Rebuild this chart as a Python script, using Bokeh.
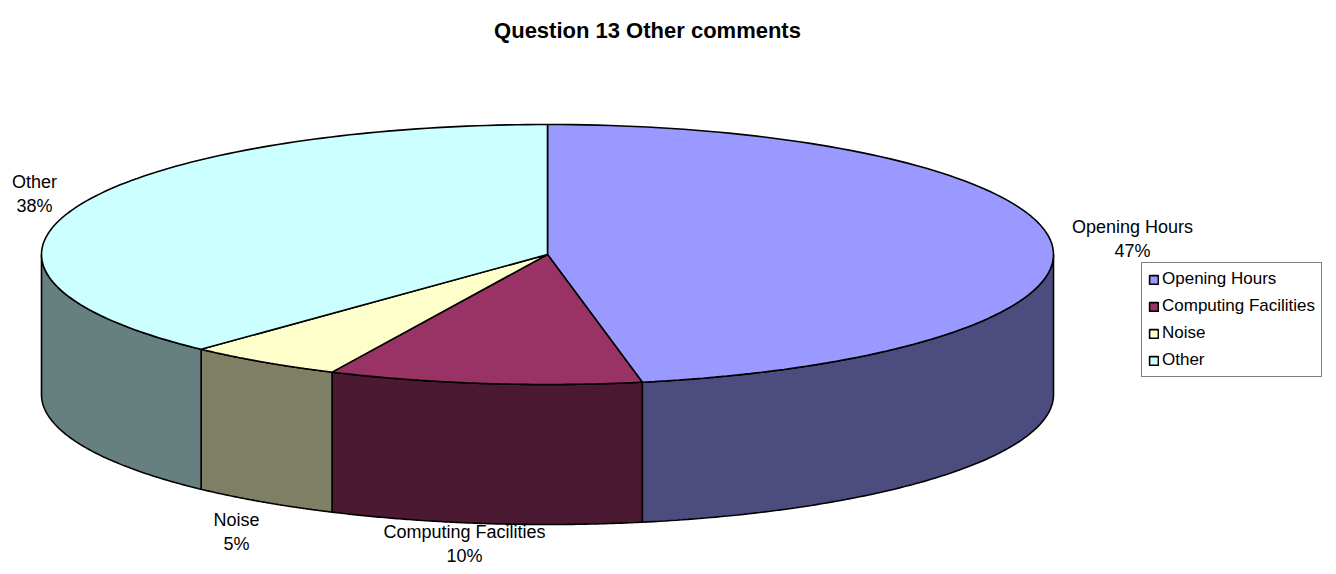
import numpy as np
from bokeh.plotting import figure
from bokeh.models import Range1d, ColumnDataSource, Legend, LegendItem
from bokeh.core.properties import value
from bokeh.embed import file_html
from bokeh.resources import INLINE

# ---- data ----
categories = ["Opening Hours", "Computing Facilities", "Noise", "Other"]
values = [47, 10, 5, 38]
title_text = "Question 13 Other comments"

# ---- style ----
top_colors = ["#9999FF", "#993366", "#FFFFCC", "#CCFFFF"]
side_colors = ["#4C4C7F", "#4C1933", "#7F7F66", "#667F7F"]
FONT = "Liberation Sans"

W, H = 1328, 566
p = figure(width=W, height=H, output_backend="svg", toolbar_location=None,
           x_range=Range1d(0, W), y_range=Range1d(H, 0),
           x_axis_location=None, y_axis_location=None,
           min_border=0, min_border_left=0, min_border_right=0,
           min_border_top=0, min_border_bottom=0)
p.grid.visible = False
p.outline_line_color = None
p.background_fill_color = "white"

# pie geometry (pixel-like data units)
cx, cy, rx, ry, depth = 547, 254, 506, 130, 140

total = float(sum(values))
angles = np.cumsum([0.0] + [v / total * 360.0 for v in values])


def arc(a, b, n=120):
    th = np.radians(np.linspace(a, b, n))
    return cx + rx * np.sin(th), cy - ry * np.cos(th)


# side walls (front half only, 90..270 deg clockwise from 12 o'clock)
for i, c in enumerate(categories):
    a, b = angles[i], angles[i + 1]
    lo, hi = max(a, 90.0), min(b, 270.0)
    if lo < hi:
        xs, ys = arc(lo, hi)
        px = list(xs) + list(xs[::-1])
        py = list(ys) + list((ys + depth)[::-1])
        p.patch(px, py, fill_color=side_colors[i], line_color="black",
                line_width=1.6)

# top slices
tops = []
for i, c in enumerate(categories):
    a, b = angles[i], angles[i + 1]
    xs, ys = arc(a, b)
    px = [cx] + list(xs) + [cx]
    py = [cy] + list(ys) + [cy]
    r = p.patch(px, py, fill_color=top_colors[i], line_color="black",
                line_width=1.6)
    tops.append(r)

# data labels
label_pos_x = [1132, 464, 236, 34]
label_pos_y = [238, 543, 531, 193]
labels = [f"{c}\n{v}%" for c, v in zip(categories, values)]
src = ColumnDataSource(dict(x=label_pos_x, y=label_pos_y, t=labels))
p.text("x", "y", text="t", source=src, text_align="center",
       text_baseline="middle", text_font=value(FONT),
       text_font_size="18px", text_color="black", text_line_height=1.2)

# title
p.text([647], [30], text=[title_text], text_align="center",
       text_baseline="middle", text_font=value(FONT),
       text_font_size="22px", text_font_style="bold", text_color="black")

legend = Legend(items=[LegendItem(label=c, renderers=[r]) for c, r in zip(categories, tops)],
                location=(1141, 189), orientation="vertical",
                border_line_color="black", border_line_width=1,
                background_fill_color="white", background_fill_alpha=1.0,
                label_text_font=FONT, label_text_font_size="17px",
                label_text_color="black",
                glyph_width=11, glyph_height=11, label_standoff=3,
                label_height=20, spacing=7, padding=6, margin=0)
p.add_layout(legend)

open("out.html", "w").write(file_html(p, INLINE))
